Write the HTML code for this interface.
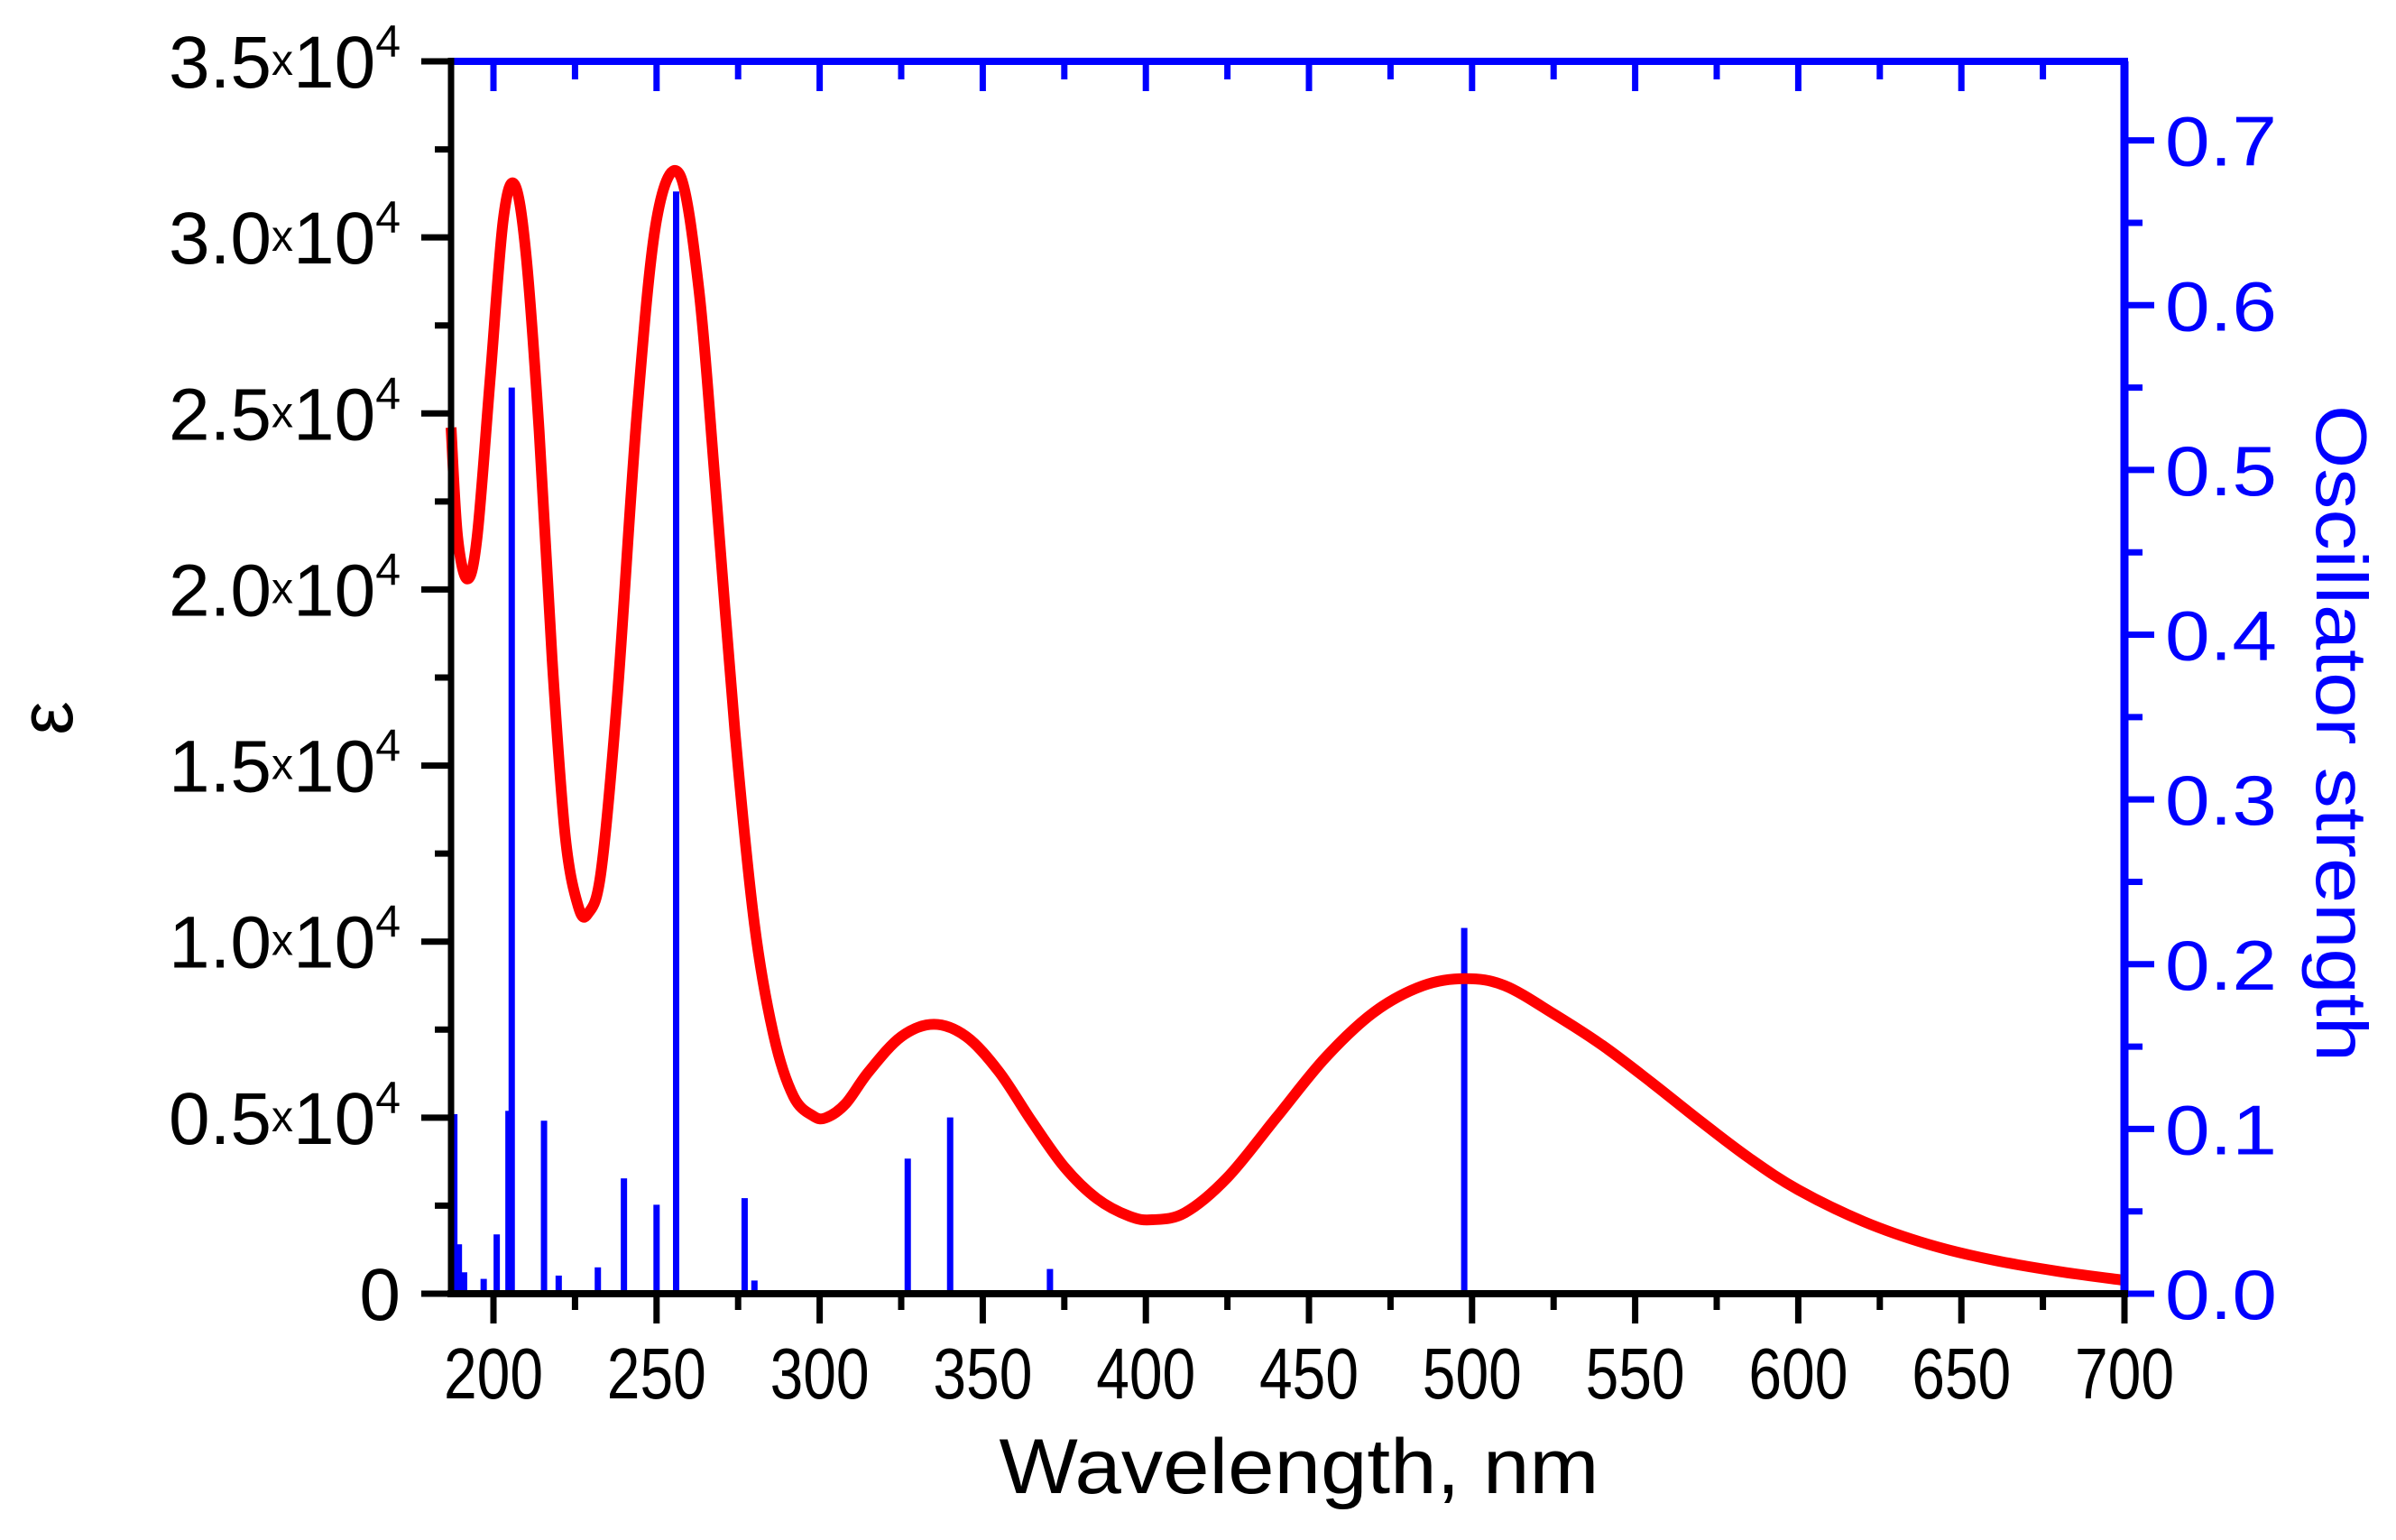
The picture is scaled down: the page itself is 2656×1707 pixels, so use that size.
<!DOCTYPE html>
<html><head><meta charset="utf-8"><style>
html,body{margin:0;padding:0;background:#fff;}
svg{display:block;font-family:"Liberation Sans",sans-serif;}
</style></head><body>
<svg id="chart" width="2656" height="1707" viewBox="0 0 2656 1707" xmlns="http://www.w3.org/2000/svg">
<rect width="2656" height="1707" fill="#fff"/>
<g id="bars"></g>
<path id="curve" fill="none" stroke="#ff0000" stroke-width="12" stroke-linejoin="round"/>
<g id="axes"></g>
<text x="1440" y="1655" font-size="86" text-anchor="middle" textLength="665" lengthAdjust="spacingAndGlyphs">Wavelength, nm</text>
<text transform="translate(80,796) rotate(-90)" font-size="84" text-anchor="middle">ε</text>
<text transform="translate(2568,813) rotate(90)" font-size="80" fill="#0000ff" text-anchor="middle" textLength="728" lengthAdjust="spacingAndGlyphs">Oscillator strength</text>
</svg>
<script>
const barWl = [188,189.4,191,197,201,204.6,205.6,215.5,220,232,240,250,256,277,280,327,340,370.6,497.6];
const barF  = [0.109,0.030,0.013,0.009,0.036,0.111,0.550,0.105,0.011,0.016,0.070,0.054,0.669,0.058,0.008,0.082,0.107,0.015,0.222];
const curveWl = [187,189,192,195,199,203,206.5,210,214,218,222,226,229,233,238,244,250,257,263,268,274,280,286,292,298,302,308,315,325,335,345,355,365,375,385,395,402,412,425,440,455,470,485,498,510,525,540,555,570,585,600,620,640,660,680,700];
const curveEps = [24600,21500,20300,21500,26000,30500,31500,29500,24500,18000,13000,11000,10800,12000,17000,25000,30500,31800,28500,23000,16000,10500,7300,5600,5050,5000,5400,6300,7300,7650,7300,6300,4900,3600,2700,2200,2100,2300,3300,5000,6700,8000,8750,8950,8750,7950,7050,6000,4900,3850,2950,2050,1400,950,630,380];
const xTicks = [200,250,300,350,400,450,500,550,600,650,700];
const xTickLabels = ["200","250","300","350","400","450","500","550","600","650","700"];
const yLeftTicks = [0,5000,10000,15000,20000,25000,30000,35000];
const yLeftMant = ["0","0.5","1.0","1.5","2.0","2.5","3.0","3.5"];
const yRightTicks = [0,0.1,0.2,0.3,0.4,0.5,0.6,0.7];
const yRightLabels = ["0.0","0.1","0.2","0.3","0.4","0.5","0.6","0.7"];

const X0=500,X1=2355,Y0=1434,YT=68;
const wlMin=187,wlMax=700;
const X = w => X0 + (w-wlMin)/(wlMax-wlMin)*(X1-X0);
const YL = e => Y0 - e/35000*(Y0-YT);
const YR = f => Y0 - f/0.748*(Y0-YT);
const NS="http://www.w3.org/2000/svg";
function mk(tag, attrs, parent){const el=document.createElementNS(NS,tag);for(const k in attrs)el.setAttribute(k,attrs[k]);parent.appendChild(el);return el;}

const bars=document.getElementById('bars');
barWl.forEach((w,i)=>{
  const r=mk('rect',{x:X(w)-3.5,y:YR(barF[i]),width:7,height:Y0-YR(barF[i]),fill:'#0000ff'},bars);
  
  
});

const pts=curveWl.map((w,i)=>[X(w),YL(curveEps[i])]);
let d=`M${pts[0][0]},${pts[0][1]}`;
for(let i=0;i<pts.length-1;i++){
  const p0=pts[Math.max(0,i-1)],p1=pts[i],p2=pts[i+1],p3=pts[Math.min(pts.length-1,i+2)];
  const c1=[p1[0]+(p2[0]-p0[0])/6,p1[1]+(p2[1]-p0[1])/6];
  const c2=[p2[0]-(p3[0]-p1[0])/6,p2[1]-(p3[1]-p1[1])/6];
  d+=` C${c1[0]},${c1[1]} ${c2[0]},${c2[1]} ${p2[0]},${p2[1]}`;
}
document.getElementById('curve').setAttribute('d',d);

const ax=document.getElementById('axes');
mk('line',{x1:X0,y1:YT,x2:X1+4,y2:YT,stroke:'#0000ff','stroke-width':8},ax);
for(let w=200;w<=700;w+=25){const maj=w%50===0;mk('line',{x1:X(w),y1:YT,x2:X(w),y2:YT+(maj?33:20),stroke:'#0000ff','stroke-width':7},ax);}
mk('line',{x1:X1,y1:YT,x2:X1,y2:Y0+4,stroke:'#0000ff','stroke-width':9},ax);
for(let f=0;f<=0.7001;f+=0.05){const maj=Math.round(f*100)%10===0;mk('line',{x1:X1,y1:YR(f),x2:X1+(maj?33:20),y2:YR(f),stroke:'#0000ff','stroke-width':7},ax);}
mk('line',{x1:X0,y1:YT-4,x2:X0,y2:Y0+4,stroke:'#000','stroke-width':7},ax);
for(let e=0;e<=35000;e+=2500){const maj=e%5000===0;mk('line',{x1:X0,y1:YL(e),x2:X0-(maj?33:18),y2:YL(e),stroke:'#000','stroke-width':7},ax);}
mk('line',{x1:X0-4,y1:Y0,x2:X1+4,y2:Y0,stroke:'#000','stroke-width':8},ax);
for(let w=200;w<=700;w+=25){const maj=w%50===0;mk('line',{x1:X(w),y1:Y0,x2:X(w),y2:Y0+(maj?33:18),stroke:'#000','stroke-width':7},ax);}

xTicks.forEach((w,i)=>{
  const t=mk('text',{x:X(w),y:1550,'font-size':80,'text-anchor':'middle',textLength:110,lengthAdjust:'spacingAndGlyphs'},ax);
  t.textContent=xTickLabels[i];
  
  
});
yLeftTicks.forEach((e,i)=>{
  const y=YL(e)+29;
  const t=mk('text',{x:444,y:y,'font-size':82,'text-anchor':'end'},ax);
  
  
  if(i===0){ t.textContent='0'; }
  else {
    const a=mk('tspan',{},t);a.textContent=yLeftMant[i];
    const b=mk('tspan',{'font-size':48,dy:-14},t);b.textContent='x';
    const c=mk('tspan',{dy:14},t);c.textContent='10';
    const s=mk('tspan',{'font-size':50,dy:-34},t);s.textContent='4';
  }
});
yRightTicks.forEach((f,i)=>{
  const t=mk('text',{x:2400,y:YR(f)+28,'font-size':78,fill:'#0000ff',textLength:124,lengthAdjust:'spacingAndGlyphs'},ax);
  t.textContent=yRightLabels[i];
  
  
});
</script>
</body></html>
